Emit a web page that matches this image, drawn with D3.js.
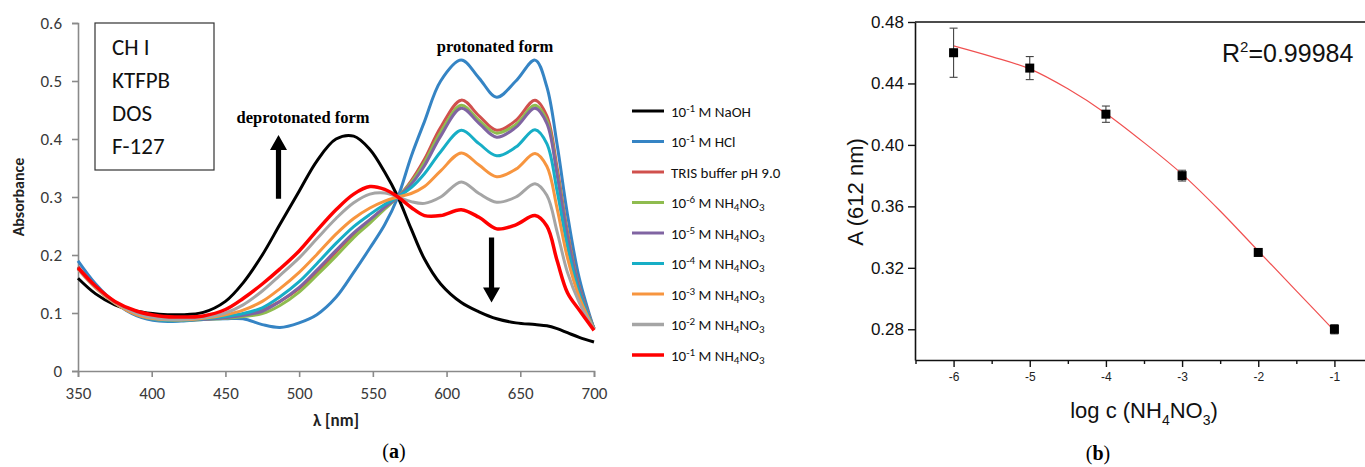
<!DOCTYPE html>
<html>
<head>
<meta charset="utf-8">
<script src="https://cdn.jsdelivr.net/npm/d3@7"></script>
<style>
body { margin: 0; background: #fff; }
</style>
</head>
<body>
<svg></svg>
<script>
const size = { w: 1365, h: 467 };
const svg = d3.select("svg").attr("width", size.w).attr("height", size.h);

// ---- panel (a): absorption spectra ----
const wavelengths = [350, 362, 375, 390, 405, 420, 435, 450, 462, 475, 487, 500, 512, 525, 537, 548, 558, 567, 576, 585, 596, 610, 622, 634, 647, 660, 668, 675, 682, 690, 700];
const naoh   = [0.160, 0.133, 0.114, 0.103, 0.098, 0.097, 0.101, 0.120, 0.152, 0.200, 0.253, 0.310, 0.362, 0.400, 0.405, 0.382, 0.343, 0.300, 0.245, 0.193, 0.150, 0.118, 0.102, 0.090, 0.083, 0.080, 0.078, 0.073, 0.066, 0.058, 0.050];
const hcl    = [0.190, 0.150, 0.118, 0.095, 0.086, 0.086, 0.089, 0.090, 0.090, 0.080, 0.075, 0.083, 0.097, 0.127, 0.170, 0.212, 0.252, 0.300, 0.370, 0.430, 0.500, 0.536, 0.505, 0.472, 0.500, 0.536, 0.490, 0.390, 0.270, 0.160, 0.072];
const tris   = [0.180, 0.146, 0.119, 0.098, 0.089, 0.088, 0.090, 0.092, 0.097, 0.105, 0.120, 0.142, 0.170, 0.205, 0.236, 0.260, 0.282, 0.300, 0.328, 0.365, 0.420, 0.467, 0.440, 0.415, 0.432, 0.467, 0.440, 0.350, 0.240, 0.145, 0.073];
const nh6    = [0.178, 0.145, 0.118, 0.097, 0.088, 0.087, 0.089, 0.091, 0.094, 0.099, 0.113, 0.136, 0.165, 0.198, 0.230, 0.255, 0.279, 0.300, 0.325, 0.360, 0.412, 0.458, 0.432, 0.410, 0.425, 0.458, 0.432, 0.343, 0.235, 0.143, 0.073];
const nh5    = [0.178, 0.145, 0.118, 0.097, 0.088, 0.087, 0.089, 0.092, 0.096, 0.103, 0.120, 0.144, 0.174, 0.208, 0.238, 0.261, 0.282, 0.300, 0.322, 0.354, 0.405, 0.453, 0.427, 0.403, 0.420, 0.453, 0.427, 0.338, 0.232, 0.142, 0.073];
const nh4    = [0.178, 0.145, 0.118, 0.097, 0.088, 0.087, 0.090, 0.094, 0.099, 0.109, 0.128, 0.154, 0.185, 0.220, 0.249, 0.270, 0.287, 0.300, 0.316, 0.340, 0.378, 0.415, 0.392, 0.371, 0.386, 0.416, 0.392, 0.310, 0.215, 0.135, 0.073];
const nh3    = [0.176, 0.143, 0.117, 0.097, 0.089, 0.088, 0.091, 0.097, 0.105, 0.120, 0.142, 0.170, 0.201, 0.236, 0.263, 0.281, 0.293, 0.300, 0.306, 0.318, 0.345, 0.376, 0.355, 0.335, 0.348, 0.375, 0.353, 0.280, 0.195, 0.127, 0.072];
const nh2    = [0.176, 0.144, 0.118, 0.099, 0.090, 0.089, 0.092, 0.100, 0.114, 0.138, 0.165, 0.195, 0.228, 0.263, 0.290, 0.305, 0.307, 0.300, 0.292, 0.289, 0.300, 0.326, 0.306, 0.291, 0.300, 0.323, 0.303, 0.240, 0.170, 0.118, 0.072];
const nh1    = [0.178, 0.146, 0.120, 0.103, 0.095, 0.093, 0.095, 0.106, 0.125, 0.150, 0.176, 0.207, 0.242, 0.278, 0.305, 0.318, 0.313, 0.300, 0.282, 0.268, 0.268, 0.278, 0.265, 0.245, 0.252, 0.268, 0.250, 0.190, 0.135, 0.105, 0.070];

const seriesValues = [naoh, hcl, tris, nh6, nh5, nh4, nh3, nh2, nh1];
const seriesColors = ["#000000", "#3584c4", "#d0504d", "#8fbc4f", "#8064a2", "#17aec6", "#f7953f", "#a5a5a5", "#ff0000"];
const seriesLabels = ["10^{-1} M NaOH", "10^{-1} M HCl", "TRIS buffer pH 9.0", "10^{-6} M NH_4NO_3", "10^{-5} M NH_4NO_3",
	"10^{-4} M NH_4NO_3", "10^{-3} M NH_4NO_3", "10^{-2} M NH_4NO_3", "10^{-1} M NH_4NO_3"];
const boxLines = ["CH I", "KTFPB", "DOS", "F-127"];
const absTicks = [0, 0.1, 0.2, 0.3, 0.4, 0.5, 0.6];
const nmTicks = [350, 400, 450, 500, 550, 600, 650, 700];

// ---- panel (b): calibration ----
const logC = [-6, -5, -4, -3, -2, -1];
const a612 = [0.460, 0.450, 0.420, 0.380, 0.330, 0.280];
const a612Err = [0.016, 0.0075, 0.0053, 0.0035, 0.001, 0.003];
const fitX = [-6, -5.5, -5, -4.5, -4, -3.5, -3, -2.5, -2, -1.5, -1];
const fitY = [0.4645, 0.4575, 0.4495, 0.4365, 0.4205, 0.4015, 0.381, 0.357, 0.331, 0.305, 0.279];
const aTicks = [0.28, 0.32, 0.36, 0.40, 0.44, 0.48];
const logTicks = [-6, -5, -4, -3, -2, -1];
const logMinor = [-6.5, -5.5, -4.5, -3.5, -2.5, -1.5, -0.5];

// writes "10^{-1} M NH_4NO_3" style labels as tspans (shift carried to the next piece)
function richText(sel, str, smallSize, shift) {
	const re = /\^\{([^}]*)\}|_(\d)|([^^_]+)/g;
	let m, carry = 0;
	while ((m = re.exec(str)) !== null) {
		let t = sel.append("tspan");
		if (m[1] !== undefined) {
			t.attr("font-size", smallSize).attr("dy", carry - shift).text(m[1]);
			carry = shift;
		} else if (m[2] !== undefined) {
			t.attr("font-size", smallSize).attr("dy", carry + shift * 0.6).text(m[2]);
			carry = -shift * 0.6;
		} else {
			if (carry) t.attr("dy", carry);
			t.text(m[3]);
			carry = 0;
		}
	}
}

const fontA = "Carlito, Lato, 'Open Sans', sans-serif";
const fontB = "'Liberation Sans', Arial, sans-serif";
const serif = "'Liberation Serif', 'DejaVu Serif', serif";

let gA = svg.append("g").classed("spectra", true);
drawSpectra(gA);
let gB = svg.append("g").classed("calibration", true);
drawCalibration(gB);

function drawSpectra(g) {
	const x = d3.scaleLinear().domain([350, 700]).range([78, 594]);
	const y = d3.scaleLinear().domain([0, 0.6]).range([371, 23]);
	const axisColor = "#8a8a8a";

	const yAxis = g.append("g").attr("transform", "translate(78,0)")
		.call(d3.axisLeft(y).tickValues(absTicks).tickSize(6).tickPadding(10).tickFormat(d3.format("")));
	const xAxis = g.append("g").attr("transform", "translate(0,371)")
		.call(d3.axisBottom(x).tickValues(nmTicks).tickSize(6).tickPadding(10));
	[yAxis, xAxis].forEach(function (a) {
		a.select(".domain").attr("stroke", axisColor).attr("stroke-width", 1.6);
		a.selectAll(".tick line").attr("stroke", axisColor).attr("stroke-width", 1.6);
		a.selectAll(".tick text").attr("fill", "#3a3a3a").attr("font-family", fontA).attr("font-size", 17);
	});

	g.append("text").attr("transform", "translate(24,197) rotate(-90)")
		.attr("text-anchor", "middle").attr("font-family", fontA).attr("font-weight", "bold")
		.attr("font-size", 16).attr("fill", "#222").text("Absorbance");
	g.append("text").attr("x", 336).attr("y", 426)
		.attr("text-anchor", "middle").attr("font-family", fontA).attr("font-weight", "bold")
		.attr("font-size", 17).attr("fill", "#222").text("λ [nm]");

	const line = d3.line()
		.x(function (d, i) { return x(wavelengths[i]); })
		.y(function (d) { return y(d); })
		.curve(d3.curveCatmullRom.alpha(0.5));

	g.selectAll("path.spectrum")
		.data(seriesValues)
		.enter()
		.append("path")
		.classed("spectrum", true)
		.attr("fill", "none")
		.attr("stroke", function (d, i) { return seriesColors[i]; })
		.attr("stroke-width", function (d, i) { return i === 8 ? 3.5 : 3; })
		.attr("stroke-linejoin", "round")
		.attr("d", line);

	// composition box
	g.append("rect").attr("x", 95).attr("y", 23).attr("width", 119).attr("height", 147)
		.attr("fill", "#fff").attr("stroke", "#333").attr("stroke-width", 1.2);
	g.selectAll("text.box")
		.data(boxLines)
		.enter()
		.append("text")
		.classed("box", true)
		.attr("x", 112)
		.attr("y", function (d, i) { return 55 + i * 33; })
		.attr("font-family", fontA).attr("font-size", 23).attr("fill", "#111")
		.text(function (d) { return d; });

	// annotations
	g.append("text").attr("x", 303).attr("y", 123).attr("text-anchor", "middle")
		.attr("font-family", serif).attr("font-weight", "bold").attr("font-size", 16.5)
		.text("deprotonated form");
	g.append("text").attr("x", 495).attr("y", 52).attr("text-anchor", "middle")
		.attr("font-family", serif).attr("font-weight", "bold").attr("font-size", 16.5)
		.text("protonated form");

	drawArrow(g, x(486), y(0.297), y(0.407));
	drawArrow(g, x(630.5), y(0.23), y(0.118));

	// legend
	const leg = g.append("g").attr("transform", "translate(632,111)");
	const rows = leg.selectAll("g")
		.data(seriesLabels)
		.enter()
		.append("g")
		.attr("transform", function (d, i) { return "translate(0," + (i * 30.5) + ")"; });
	rows.append("line").attr("x1", 0).attr("x2", 32).attr("y1", 0).attr("y2", 0)
		.attr("stroke", function (d, i) { return seriesColors[i]; })
		.attr("stroke-width", function (d, i) { return i >= 7 ? 3.5 : 3; });
	rows.append("text").attr("x", 39).attr("y", 5.5)
		.attr("font-family", fontA).attr("font-size", 15).attr("fill", "#111")
		.each(function (d) { richText(d3.select(this), d, 11, 5); });

	const cap = svg.append("text").attr("x", 394).attr("y", 458).attr("text-anchor", "middle")
		.attr("font-family", serif).attr("font-size", 20);
	cap.append("tspan").text("(");
	cap.append("tspan").attr("font-weight", "bold").text("a");
	cap.append("tspan").text(")");
}

function drawArrow(g, cx, yBase, yTip) {
	const dir = yTip < yBase ? -1 : 1;
	const headH = 15, headW = 8.5, shaft = 2.6;
	const yNeck = yTip - dir * headH;
	const pts = [
		[cx - shaft, yBase], [cx - shaft, yNeck], [cx - headW, yNeck], [cx, yTip],
		[cx + headW, yNeck], [cx + shaft, yNeck], [cx + shaft, yBase]
	];
	g.append("path").attr("d", "M" + pts.join("L") + "Z").attr("fill", "#000");
}

function drawCalibration(g) {
	const x = d3.scaleLinear().domain([-6.5, -0.5]).range([915.5, 1372.5]);
	const y = d3.scaleLinear().domain([0.26, 0.48]).range([360, 22]);

	// frame
	g.append("line").attr("x1", 915).attr("x2", size.w).attr("y1", 22).attr("y2", 22)
		.attr("stroke", "#111").attr("stroke-width", 1.6);

	const yAxis = g.append("g").attr("transform", "translate(915,0)")
		.call(d3.axisLeft(y).tickValues(aTicks).tickSize(7).tickPadding(4).tickFormat(d3.format(".2f")).tickSizeOuter(0));
	yAxis.select(".domain").attr("stroke", "#111").attr("stroke-width", 1.6);
	yAxis.selectAll(".tick line").attr("stroke", "#111").attr("stroke-width", 1.4);
	yAxis.selectAll(".tick text").attr("fill", "#111").attr("font-family", fontB).attr("font-size", 17);

	const xAxis = g.append("g").attr("transform", "translate(0,360)")
		.call(d3.axisBottom(x).tickValues(logTicks).tickSize(7).tickPadding(5).tickFormat(d3.format("d")).tickSizeOuter(0));
	xAxis.select(".domain").attr("stroke", "#111").attr("stroke-width", 1.6);
	xAxis.selectAll(".tick line").attr("stroke", "#111").attr("stroke-width", 1.4);
	xAxis.selectAll(".tick text").attr("fill", "#222").attr("font-family", fontB).attr("font-size", 12)
		.text(function (d) { return "-" + Math.abs(d); });
	g.append("g").attr("transform", "translate(0,360)")
		.call(d3.axisBottom(x).tickValues(logMinor).tickSize(4).tickFormat("").tickSizeOuter(0))
		.call(function (a) {
			a.select(".domain").remove();
			a.selectAll(".tick text").remove();
			a.selectAll(".tick line").attr("stroke", "#111").attr("stroke-width", 1.4);
		});

	// fitted curve
	const fitLine = d3.line()
		.x(function (d, i) { return x(fitX[i]); })
		.y(function (d) { return y(d); })
		.curve(d3.curveMonotoneX);
	g.append("path").datum(fitY).attr("d", fitLine)
		.attr("fill", "none").attr("stroke", "#f05050").attr("stroke-width", 1.2);

	// error bars
	const err = g.selectAll("g.err")
		.data(logC)
		.enter()
		.append("g")
		.classed("err", true);
	err.append("line")
		.attr("x1", function (d) { return x(d); })
		.attr("x2", function (d) { return x(d); })
		.attr("y1", function (d, i) { return y(a612[i] - a612Err[i]); })
		.attr("y2", function (d, i) { return y(a612[i] + a612Err[i]); })
		.attr("stroke", "#444").attr("stroke-width", 1.1);
	[-1, 1].forEach(function (s) {
		err.append("line")
			.attr("x1", function (d) { return x(d) - 4; })
			.attr("x2", function (d) { return x(d) + 4; })
			.attr("y1", function (d, i) { return y(a612[i] + s * a612Err[i]); })
			.attr("y2", function (d, i) { return y(a612[i] + s * a612Err[i]); })
			.attr("stroke", "#444").attr("stroke-width", 1.1);
	});

	// markers
	g.selectAll("rect.pt")
		.data(logC)
		.enter()
		.append("rect")
		.classed("pt", true)
		.attr("x", function (d) { return x(d) - 4.5; })
		.attr("y", function (d, i) { return y(a612[i]) - 4.5; })
		.attr("width", 9).attr("height", 9)
		.attr("fill", "#000");

	g.append("text").attr("x", 1222).attr("y", 62)
		.attr("font-family", fontB).attr("font-size", 25).attr("fill", "#111")
		.each(function () { richText(d3.select(this), "R^{2}=0.99984", 15, 10); });

	g.append("text").attr("transform", "translate(863,192) rotate(-90)")
		.attr("text-anchor", "middle").attr("font-family", fontB).attr("font-size", 22).attr("fill", "#111")
		.text("A (612 nm)");

	const xl = g.append("text").attr("x", 1144).attr("y", 418).attr("text-anchor", "middle")
		.attr("font-family", fontB).attr("font-size", 22).attr("fill", "#111");
	xl.append("tspan").text("log c (NH");
	xl.append("tspan").attr("font-size", 14).attr("dy", 7).text("4");
	xl.append("tspan").attr("dy", -7).text("NO");
	xl.append("tspan").attr("font-size", 14).attr("dy", 7).text("3");
	xl.append("tspan").attr("dy", -7).text(")");

	const cap = svg.append("text").attr("x", 1098).attr("y", 460).attr("text-anchor", "middle")
		.attr("font-family", serif).attr("font-size", 20);
	cap.append("tspan").text("(");
	cap.append("tspan").attr("font-weight", "bold").text("b");
	cap.append("tspan").text(")");
}
</script>
</body>
</html>
